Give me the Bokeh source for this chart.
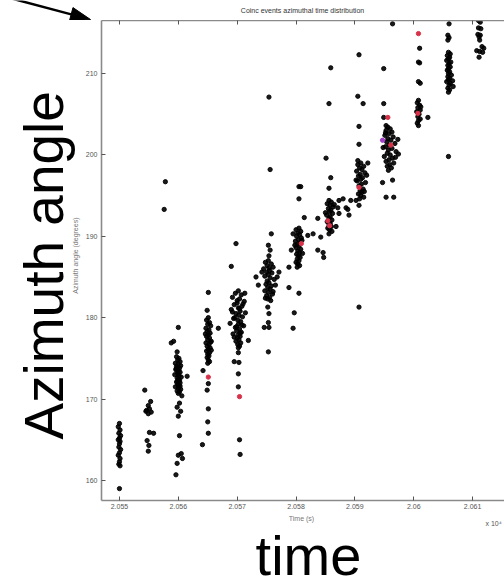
import math
from bokeh.plotting import figure
from bokeh.models import (ColumnDataSource, Range1d, LinearAxis, FixedTicker, Label)
from bokeh.layouts import row, column
from bokeh.embed import file_html
from bokeh.resources import INLINE

# ---------------- data (time in units of 10^4 s, azimuth in degrees) ----------------
x_ticks = [2.055, 2.056, 2.057, 2.058, 2.059, 2.060, 2.061]
x_tick_labels = ["2.055", "2.056", "2.057", "2.058", "2.059", "2.06", "2.061"]
y_ticks = [160, 170, 180, 190, 200, 210]

ev_2055 = [(2.05500,167.0),(2.05498,166.6),(2.05501,166.2),(2.05499,165.8),(2.05502,165.5),
           (2.05500,165.2),(2.05498,165.0),(2.05501,164.8),(2.05500,164.5),(2.05499,164.1),
           (2.05502,163.8),(2.05500,163.4),(2.05498,163.1),(2.05501,162.7),(2.05500,162.3),
           (2.05499,162.0),(2.05501,161.8),(2.05500,159.0)]

ev_20555 = [(2.05543,171.1),(2.05553,169.7),(2.05549,169.2),(2.05551,168.8),(2.05546,168.6),
            (2.05554,168.4),(2.05549,168.2),(2.05545,168.5),(2.05551,165.9),(2.05558,165.8),
            (2.05547,164.9),(2.05550,164.3),(2.05549,163.6)]

ev_2056 = [(2.05600,178.8),(2.05588,176.9),(2.05592,177.1),(2.05598,175.8),(2.05615,172.8),
           (2.05602,169.5),(2.05598,169.0),(2.05604,168.5),(2.05600,167.9),(2.05602,165.5),
           (2.05605,163.3),(2.05600,163.1),(2.05607,162.7),(2.05598,162.1),(2.05596,160.7),
           (2.05578,196.7),(2.05576,193.3),
           (2.05597,175.2),(2.05601,175.0),(2.05599,174.8),(2.05603,174.6),(2.05595,174.4),
           (2.05600,174.3),(2.05604,174.1),(2.05598,173.9),(2.05602,173.8),(2.05596,173.6),
           (2.05600,173.5),(2.05603,173.3),(2.05599,173.2),(2.05594,173.0),(2.05601,172.9),
           (2.05605,172.7),(2.05598,172.6),(2.05600,172.4),(2.05602,172.3),(2.05597,172.1),
           (2.05603,172.0),(2.05599,171.8),(2.05601,171.7),(2.05595,171.5),(2.05600,171.4),
           (2.05604,171.2),(2.05598,171.0),(2.05602,170.9),(2.05600,170.7),(2.05596,173.7),
           (2.05601,172.8),(2.05599,172.2),(2.05603,171.6),(2.05597,174.0),(2.05600,173.1),
           (2.05606,170.4)]

ev_20565 = [(2.05651,183.1),(2.05649,180.9),(2.05668,178.7),(2.05642,173.5),(2.05651,171.9),
            (2.05649,171.1),(2.05651,168.8),(2.05650,167.2),(2.05651,165.8),(2.05641,164.4),
            (2.05651,180.0),(2.05648,179.7),(2.05653,179.4),(2.05650,179.2),(2.05655,179.0),
            (2.05647,178.7),(2.05652,178.5),(2.05649,178.3),(2.05654,178.1),(2.05651,177.9),
            (2.05648,177.7),(2.05653,177.5),(2.05650,177.3),(2.05656,177.1),(2.05647,176.9),
            (2.05652,176.7),(2.05649,176.5),(2.05654,176.3),(2.05651,176.1),(2.05648,175.9),
            (2.05653,175.7),(2.05650,175.5),(2.05652,175.3),(2.05649,175.1),(2.05651,174.8),
            (2.05653,174.6),(2.05650,174.4),(2.05655,177.0),(2.05646,178.0),(2.05656,176.0)]

ev_2057 = [(2.05695,174.6),(2.05702,175.7),(2.05703,174.5),(2.05702,173.1),(2.05702,171.5),
           (2.05704,165.0),(2.05705,163.2),(2.05719,177.2),(2.05698,189.1),(2.05690,186.3),
           (2.05702,183.3),(2.05697,183.0),(2.05707,182.8),(2.05692,182.5),(2.05704,182.3),
           (2.05712,182.0),(2.05700,181.8),(2.05695,181.6),(2.05708,181.4),(2.05702,181.2),
           (2.05690,181.0),(2.05705,180.8),(2.05714,180.6),(2.05698,180.5),(2.05703,180.3),
           (2.05709,180.1),(2.05694,179.9),(2.05701,179.7),(2.05706,179.5),(2.05688,179.3),
           (2.05702,179.2),(2.05711,179.0),(2.05697,178.8),(2.05704,178.6),(2.05699,178.4),
           (2.05707,178.2),(2.05693,178.0),(2.05702,177.9),(2.05705,177.7),(2.05700,177.5),
           (2.05703,177.3),(2.05698,177.1),(2.05706,176.9),(2.05701,176.7),(2.05704,176.5),
           (2.05702,176.3),(2.05696,180.0),(2.05708,179.1),(2.05700,182.1),(2.05704,181.1),
           (2.05699,178.9),(2.05705,178.1),(2.05710,181.7),(2.05692,180.7),(2.05713,183.0),
           (2.05695,177.6)]

ev_20575 = [(2.05754,207.1),(2.05756,198.2),(2.05758,190.3),(2.05753,188.9),(2.05756,188.3),
            (2.05754,187.6),(2.05752,181.3),(2.05754,180.5),(2.05753,179.4),(2.05754,178.8),
            (2.05736,184.0),(2.05732,185.0),(2.05771,185.6),(2.05753,175.8),(2.05746,178.8),
            (2.05753,187.0),(2.05748,186.8),(2.05758,186.6),(2.05751,186.4),(2.05761,186.2),
            (2.05745,186.0),(2.05755,185.8),(2.05750,185.6),(2.05759,185.5),(2.05753,185.3),
            (2.05747,185.1),(2.05756,184.9),(2.05763,184.7),(2.05751,184.5),(2.05754,184.3),
            (2.05749,184.1),(2.05758,183.9),(2.05752,183.7),(2.05756,183.5),(2.05747,183.3),
            (2.05753,183.1),(2.05760,182.9),(2.05750,182.7),(2.05755,182.5),(2.05752,182.3),
            (2.05757,182.1),(2.05765,184.0),(2.05742,185.6),(2.05761,183.2),(2.05748,182.4),
            (2.05754,186.1),(2.05768,185.0)]

ev_2058 = [(2.05805,196.1),(2.05808,196.1),(2.05805,194.6),(2.05814,192.3),(2.05795,190.3),
           (2.05792,188.3),(2.05788,186.2),(2.05788,183.7),(2.05805,183.0),(2.05797,180.6),
           (2.05795,178.7),(2.05829,190.3),(2.05820,190.1),(2.05842,189.9),(2.05837,188.3),
           (2.05846,188.0),(2.05847,187.4),
           (2.05805,191.0),(2.05800,190.8),(2.05808,190.6),(2.05803,190.4),(2.05806,190.2),
           (2.05801,190.0),(2.05809,189.8),(2.05804,189.6),(2.05799,189.4),(2.05807,189.2),
           (2.05802,189.0),(2.05805,188.8),(2.05800,188.6),(2.05808,188.4),(2.05803,188.2),
           (2.05806,188.0),(2.05801,187.8),(2.05804,187.6),(2.05807,187.4),(2.05802,187.2),
           (2.05805,187.0),(2.05800,186.8),(2.05803,186.6),(2.05806,186.4),(2.05802,186.2),
           (2.05810,189.5),(2.05798,188.9),(2.05811,187.9)]

ev_20585 = [(2.05851,199.6),(2.05859,197.2),(2.05856,195.9),(2.05868,191.2),(2.05837,192.2),
            (2.05873,194.4),(2.05880,194.6),(2.05871,193.5),(2.05873,192.8),(2.05885,193.5),
            (2.05890,192.6),(2.05888,193.3),(2.05893,194.4),(2.05856,206.3),(2.05859,210.7),
            (2.05856,194.4),(2.05860,194.2),(2.05853,194.0),(2.05858,193.8),(2.05863,193.6),
            (2.05855,193.4),(2.05859,193.2),(2.05857,193.0),(2.05862,192.8),(2.05852,192.6),
            (2.05858,192.4),(2.05856,192.2),(2.05861,192.0),(2.05853,191.8),(2.05858,191.6),
            (2.05856,191.4),(2.05860,191.2),(2.05854,191.0),(2.05857,190.8),(2.05861,190.6),
            (2.05856,190.3),(2.05865,193.9),(2.05850,192.9)]

ev_2059 = [(2.05905,199.3),(2.05922,199.0),(2.05907,193.8),(2.05902,194.4),(2.05907,203.5),
           (2.05907,201.3),(2.05907,181.3),(2.05914,206.3),(2.05907,212.3),(2.05905,207.2),
           (2.05910,199.0),(2.05905,198.8),(2.05915,198.6),(2.05908,198.4),(2.05912,198.2),
           (2.05903,198.0),(2.05917,197.8),(2.05909,197.6),(2.05906,197.4),(2.05913,197.2),
           (2.05910,197.0),(2.05904,196.8),(2.05918,196.6),(2.05911,196.4),(2.05907,196.2),
           (2.05914,195.8),(2.05909,195.6),(2.05912,195.4),(2.05906,195.2),(2.05910,195.0),
           (2.05915,194.8),(2.05908,194.6),(2.05920,197.5),(2.05902,196.9),(2.05916,195.5)]

ev_20595 = [(2.05964,216.1),(2.05949,210.6),(2.05949,206.3),(2.05949,204.6),(2.05953,203.6),
            (2.05947,196.6),(2.05964,196.9),(2.05953,194.8),(2.05966,194.8),
            (2.05956,203.4),(2.05960,203.2),(2.05953,203.0),(2.05963,202.8),(2.05958,202.6),
            (2.05951,202.4),(2.05965,202.2),(2.05956,202.0),(2.05961,201.8),(2.05954,201.6),
            (2.05968,201.4),(2.05958,201.2),(2.05952,201.0),(2.05963,200.8),(2.05957,200.6),
            (2.05970,200.4),(2.05955,200.2),(2.05960,200.0),(2.05950,199.8),(2.05964,199.6),
            (2.05958,199.4),(2.05953,199.2),(2.05966,199.0),(2.05959,198.8),(2.05955,198.6),
            (2.05962,198.4),(2.05957,198.1),(2.05973,201.9),(2.05948,200.9),(2.05969,199.7),
            (2.05952,202.7),(2.05974,200.1)]

ev_2060 = [(2.06010,213.1),(2.06008,211.4),(2.06010,211.3),(2.06008,209.0),(2.06011,208.8),
           (2.06024,204.6),(2.06008,203.6),(2.06059,199.8),
           (2.06008,206.7),(2.06006,206.4),(2.06010,206.1),(2.06007,205.8),(2.06011,205.5),
           (2.06005,205.3),(2.06009,205.0),(2.06007,204.7),(2.06011,204.4),(2.06008,204.2),
           (2.06006,203.9),(2.06012,205.9)]

ev_20605 = [(2.06060,216.1),(2.06058,214.7),(2.06060,214.4),(2.06058,214.1),
            (2.06059,212.6),(2.06062,212.4),(2.06057,212.2),(2.06061,212.0),(2.06059,211.8),
            (2.06056,211.6),(2.06063,211.4),(2.06060,211.2),(2.06058,211.0),(2.06062,210.8),
            (2.06059,210.6),(2.06057,210.4),(2.06061,210.2),(2.06059,210.0),(2.06064,209.8),
            (2.06058,209.6),(2.06061,209.4),(2.06059,209.2),(2.06056,209.0),(2.06062,208.8),
            (2.06060,208.6),(2.06067,208.4),(2.06058,208.2),(2.06061,208.0),(2.06059,207.7),
            (2.06066,209.1)]

ev_2061 = [(2.06110,216.5),(2.06113,216.3),(2.06110,215.6),(2.06114,215.5),(2.06109,214.8),
           (2.06113,214.7),(2.06111,214.5),(2.06112,214.1),(2.06116,213.3),(2.06119,213.1),
           (2.06107,212.8),(2.06112,212.7),(2.06117,212.6),(2.06111,212.0)]

ev_red = [(2.05651,172.7),(2.05704,170.3),(2.05809,189.1),(2.05854,191.9),(2.05857,191.3),
          (2.05907,196.0),(2.05956,204.6),(2.05961,201.2),(2.06008,214.9),(2.06007,205.1)]
ev_purple = [(2.05947,201.8)]

black_events = (ev_2055 + ev_20555 + ev_2056 + ev_20565 + ev_2057 + ev_20575 + ev_2058 +
                ev_20585 + ev_2059 + ev_20595 + ev_2060 + ev_20605 + ev_2061)

# ---------------- layout geometry (page pixels) ----------------
W, H = 504, 587
TOP_H = 20          # strip above the plot frame (title + pointer arrow)
STRIP_W = 82        # strip left of the tick labels (big vertical label + axis title)
FRAME_LEFT = 100
ROW_BOTTOM = 514    # page y where the bottom strip starts
FRAME_BOTTOM = 500
X0, X1 = 2.054695, 2.061542
Y0, Y1 = 157.54, 216.51
FONT = "Liberation Sans"


def blank(width, height, xr, yr):
    f = figure(width=width, height=height, x_range=Range1d(*xr), y_range=Range1d(*yr),
               output_backend="svg", toolbar_location=None,
               x_axis_location=None, y_axis_location=None,
               min_border_left=0, min_border_right=0, min_border_top=0, min_border_bottom=0)
    f.outline_line_color = None
    f.background_fill_color = "white"
    f.border_fill_color = "white"
    for g in f.grid:
        g.visible = False
    return f


# ---- main plot ----
p = figure(width=W - STRIP_W, height=ROW_BOTTOM - TOP_H,
           x_range=Range1d(X0, X1), y_range=Range1d(Y0, Y1),
           output_backend="svg", toolbar_location=None,
           min_border_left=FRAME_LEFT - STRIP_W, min_border_right=0, min_border_top=0,
           min_border_bottom=ROW_BOTTOM - FRAME_BOTTOM)
p.background_fill_color = "white"
p.border_fill_color = "white"
p.outline_line_color = None
p.xgrid.visible = False
p.ygrid.visible = False

AX_COL = "#8a8a8a"
for ax in (p.xaxis[0], p.yaxis[0]):
    ax.axis_line_color = AX_COL
    ax.axis_line_width = 1.6
    ax.major_tick_in = 4
    ax.major_tick_out = 0
    ax.major_tick_line_color = "#555555"
    ax.minor_tick_line_color = None
    ax.major_label_text_font = FONT
    ax.major_label_text_font_size = "7px"
    ax.major_label_text_color = "#555555"

p.xaxis.ticker = FixedTicker(ticks=x_ticks)
p.xaxis.major_label_overrides = {t: l for t, l in zip(x_ticks, x_tick_labels)}
p.xaxis.major_label_standoff = 3

p.yaxis.ticker = FixedTicker(ticks=y_ticks)
p.yaxis.major_label_standoff = 4

# top frame edge: ticks only, no labels
top = LinearAxis(ticker=FixedTicker(ticks=x_ticks))
top.axis_line_color = AX_COL
top.axis_line_width = 1.6
top.major_tick_in = 4
top.major_tick_out = 0
top.major_tick_line_color = "#555555"
top.minor_tick_line_color = None
top.major_label_text_font_size = "0px"
top.major_label_text_color = None
top.major_label_standoff = 0
p.add_layout(top, "above")

src = ColumnDataSource(dict(t=[e[0] for e in black_events], az=[e[1] for e in black_events]))
p.scatter("t", "az", source=src, marker="circle", size=4.3, color="black", alpha=0.9)
src_r = ColumnDataSource(dict(t=[e[0] for e in ev_red], az=[e[1] for e in ev_red]))
p.scatter("t", "az", source=src_r, marker="circle", size=4.3, color="#d8324a")
src_p = ColumnDataSource(dict(t=[e[0] for e in ev_purple], az=[e[1] for e in ev_purple]))
p.scatter("t", "az", source=src_p, marker="circle", size=4.3, color="#a040c8")

# ---- top strip: title + pointer arrow (coordinates = page pixels) ----
topstrip = blank(W, TOP_H, (0, W), (TOP_H, 0))
topstrip.add_layout(Label(x=302, y=10, text="Coinc events azimuthal time distribution",
                          text_align="center", text_baseline="middle", text_font=FONT,
                          text_font_size="7px", text_color="#333333"))
tip = (90.0, 19.0)
tail = (-4.0, -6.0)
dx, dy = tip[0] - tail[0], tip[1] - tail[1]
dl = math.hypot(dx, dy)
ux, uy = dx / dl, dy / dl
head_len, head_half = 20.0, 7.0
bx, by = tip[0] - head_len * ux, tip[1] - head_len * uy
topstrip.segment(x0=[tail[0]], y0=[tail[1]], x1=[bx + 2 * ux], y1=[by + 2 * uy],
                 line_color="black", line_width=2.5)
topstrip.patch(x=[tip[0], bx - head_half * uy, bx + head_half * uy],
               y=[tip[1], by + head_half * ux, by - head_half * ux],
               fill_color="black", line_color="black")

# ---- left strip: big vertical label + the plot's y-axis title ----
left = blank(STRIP_W, ROW_BOTTOM - TOP_H, (0, STRIP_W), (ROW_BOTTOM, TOP_H))
left.add_layout(Label(x=43, y=272, text="Azimuth angle", angle=math.pi / 2,
                      text_align="center", text_baseline="middle",
                      text_font=FONT, text_font_size="55px", text_color="black"))
left.add_layout(Label(x=75, y=262, text="Azimuth angle (degrees)", angle=math.pi / 2,
                      text_align="center", text_baseline="middle",
                      text_font=FONT, text_font_size="7px", text_color="#777777"))

# ---- bottom strip: axis title, exponent note, big "time" ----
bottom = blank(W, H - ROW_BOTTOM, (0, W), (H, ROW_BOTTOM))
bottom.add_layout(Label(x=301, y=518, text="Time (s)", text_align="center",
                        text_baseline="middle", text_font=FONT, text_font_size="7px",
                        text_color="#777777"))
bottom.add_layout(Label(x=485, y=523, text="x 10\u2074", text_align="left",
                        text_baseline="middle", text_font=FONT, text_font_size="7px",
                        text_color="#555555"))
bottom.add_layout(Label(x=308, y=555, text="time", text_align="center",
                        text_baseline="middle", text_font=FONT,
                        text_font_size="56px", text_color="black"))

layout = column(topstrip, row(left, p), bottom)
open("out.html", "w").write(file_html(layout, INLINE))
